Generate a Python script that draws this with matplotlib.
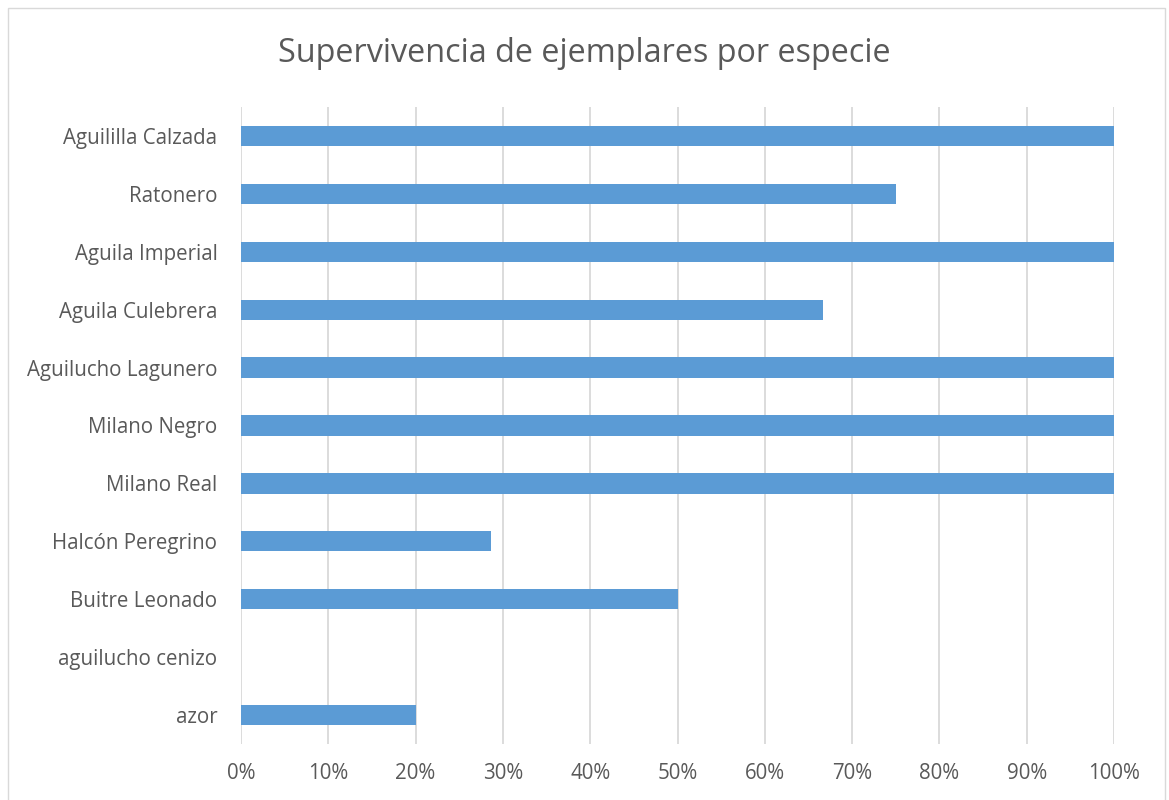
import matplotlib.pyplot as plt
from matplotlib.patches import Rectangle
from matplotlib.ticker import PercentFormatter

# Species (top to bottom as shown in the chart)
especies = ['Aguililla Calzada', 'Ratonero', 'Aguila Imperial', 'Aguila Culebrera',
            'Aguilucho Lagunero', 'Milano Negro', 'Milano Real', 'Halcón Peregrino',
            'Buitre Leonado', 'aguilucho cenizo', 'azor']
supervivencia = [1.0, 0.75, 1.0, 0.667, 1.0, 1.0, 1.0, 0.286, 0.5, 0.0, 0.2]
ticks_x = [0, 0.1, 0.2, 0.3, 0.4, 0.5, 0.6, 0.7, 0.8, 0.9, 1.0]

plt.rcParams['font.family'] = ['Open Sans', 'DejaVu Sans']

fig = plt.figure(figsize=(11.69, 8), dpi=100)
ax = fig.add_axes([241 / 1169, 1 - 744 / 800, 873 / 1169, 637 / 800])

# Chart-area border
fig.patches.append(Rectangle((8 / 1169, -0.01), 1157 / 1169, 1 - 8 / 800 + 0.01,
                             transform=fig.transFigure, fill=False,
                             edgecolor='#D9D9D9', linewidth=1))

pos = range(len(especies))
ax.barh(pos, supervivencia, height=0.35, color='#5B9BD5', zorder=3)

ax.set_xlim(0, 1.0)
ax.set_ylim(len(especies) - 0.5, -0.5)
ax.set_yticks(list(pos))
ax.set_yticklabels(especies)
ax.set_xticks(ticks_x)
ax.xaxis.set_major_formatter(PercentFormatter(1.0, decimals=0))

ax.grid(axis='x', color='#D9D9D9', linewidth=1.3, zorder=0)
for s in ax.spines.values():
    s.set_visible(False)
ax.tick_params(axis='y', length=0, labelsize=14.8, colors='#595959', pad=17)
ax.tick_params(axis='x', length=0, labelsize=14.8, colors='#595959', pad=14)

fig.text(0.5, 1 - 54 / 800, 'Supervivencia de ejemplares por especie',
         ha='center', va='center', fontsize=23.3, color='#595959')

fig.savefig('out.png', dpi=100, facecolor='white')
